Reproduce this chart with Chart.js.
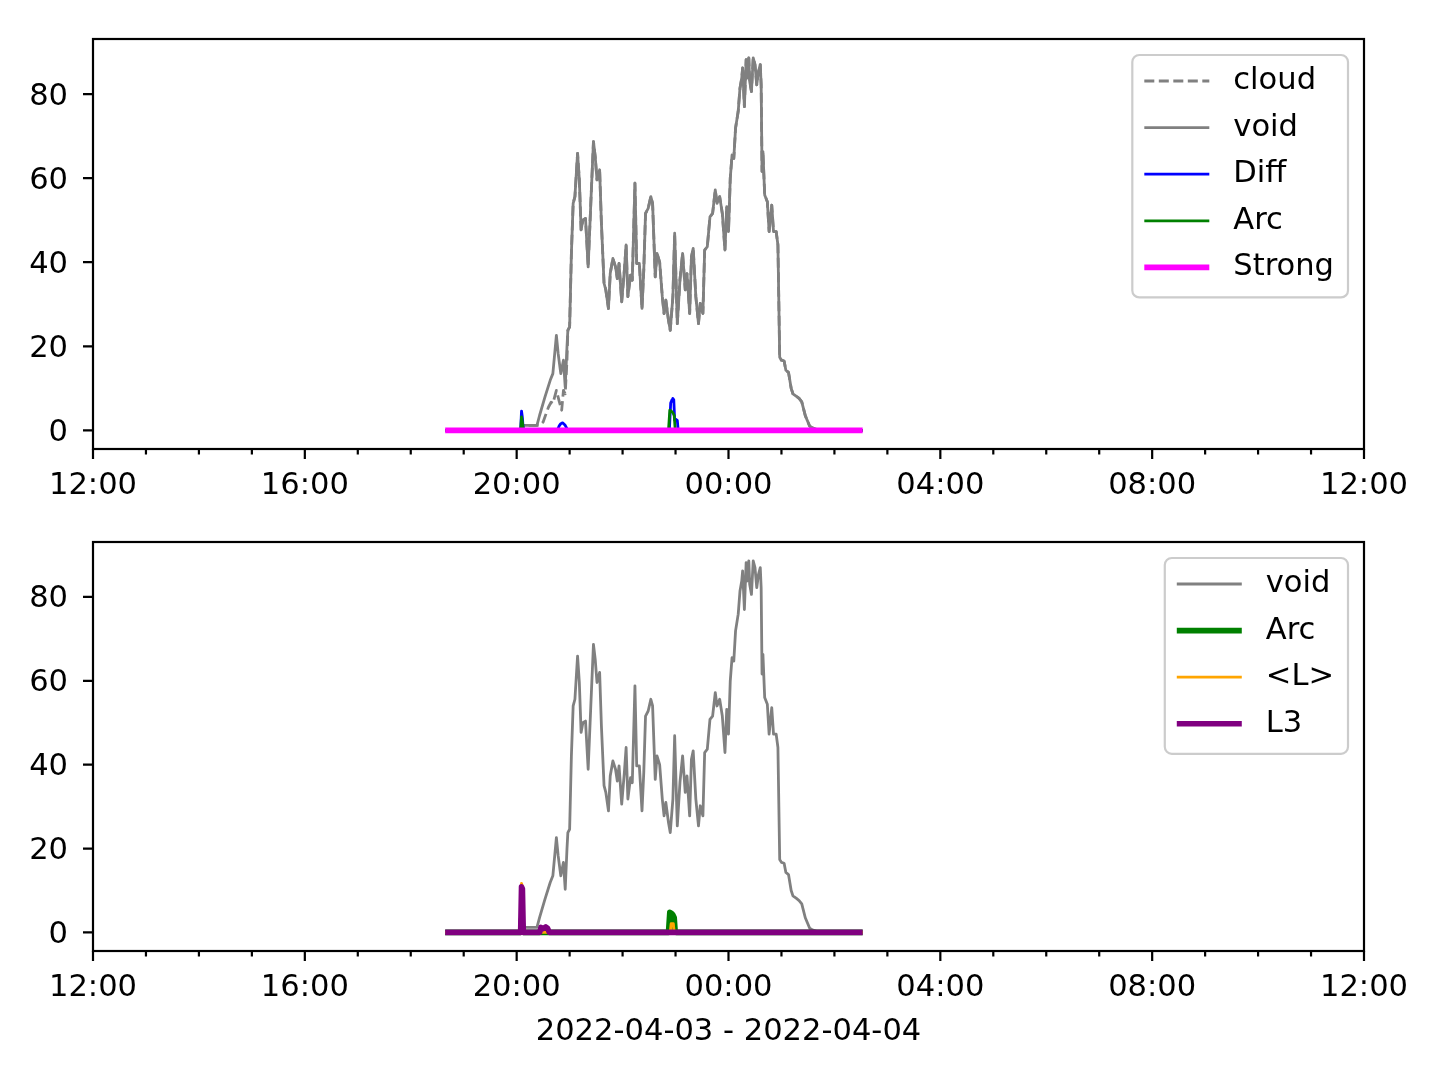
<!DOCTYPE html>
<html>
<head>
<meta charset="utf-8">
<script src="https://cdn.jsdelivr.net/npm/chart.js@4.4.0/dist/chart.umd.min.js"></script>
<style>
  html, body { margin: 0; padding: 0; background: #fff; }
  #wrap { position: relative; width: 1440px; height: 1080px; }
  canvas { position: absolute; left: 0; }
  #top { top: 0; }
  #bottom { top: 503px; }
</style>
</head>
<body>
<div id="wrap">
  <canvas id="top" width="1440" height="540"></canvas>
  <canvas id="bottom" width="1440" height="577"></canvas>
</div>
<script>
// x values are minutes after 2022-04-03 12:00
const xMajor = [0, 240, 480, 720, 960, 1200, 1440];
const xTickLabels = ['12:00', '16:00', '20:00', '00:00', '04:00', '08:00', '12:00'];
const yTicks = [0, 20, 40, 60, 80];
const xTitle = '2022-04-03 - 2022-04-04';

const voidT = [399, 486, 488, 503, 506, 512, 518, 521, 525, 527, 530, 533, 535, 537, 538, 540, 542, 544, 546, 549,
  551, 553, 555, 558, 561, 564, 567, 569, 571, 574, 576, 579, 581, 584, 586, 589, 592, 594, 596, 599,
  602, 604, 606, 609, 611, 614, 616, 619, 622, 624, 626, 629, 632, 634, 637, 639, 642, 645, 647, 649,
  652, 654, 657, 659, 662, 665, 668, 671, 673, 676, 678, 680, 683, 686, 688, 691, 693, 696, 699, 702,
  705, 707, 710, 713, 716, 718, 720, 722, 724, 726, 728, 731, 733, 735, 736, 738, 740, 741, 743, 744,
  746, 748, 750, 752, 754, 756, 757, 758, 759, 761, 764, 766, 769, 771, 774, 776, 778, 780, 783, 785,
  788, 791, 793, 797, 800, 803, 807, 812, 815, 822, 828, 872];
const voidV = [0, 0, 1.2, 1.2, 3.6, 7.9, 11.9, 13.5, 22.6, 18.3, 13.5, 16.7, 10.3, 19.9, 23.8, 24.6, 42.1, 54.0, 55.6, 65.9,
  59.6, 47.7, 50.0, 50.4, 38.9, 54.0, 68.7, 65.1, 59.6, 62.0, 49.3, 35.0, 33.4, 29.0, 37.3, 40.9, 38.9, 36.1, 39.7, 30.6,
  38.1, 44.1, 31.8, 36.9, 35.7, 58.8, 39.7, 39.7, 29.0, 38.1, 51.6, 52.8, 55.6, 54.0, 36.5, 42.1, 40.0, 31.8, 27.8, 31.0,
  26.2, 23.8, 31.8, 46.9, 25.4, 35.8, 42.1, 33.4, 37.3, 27.8, 41.3, 43.3, 31.8, 25.4, 30.2, 27.8, 42.9, 43.7, 50.8, 51.6,
  57.2, 54.0, 55.6, 51.6, 42.9, 53.2, 47.3, 60.0, 65.5, 64.7, 71.9, 75.9, 81.4, 83.8, 86.2, 77.0, 88.2, 83.8, 88.6, 83.0,
  80.6, 88.6, 87.0, 82.2, 85.4, 87.0, 82.2, 61.6, 66.3, 56.0, 54.4, 47.3, 53.6, 47.3, 47.3, 44.1, 17.4, 16.7, 16.5, 14.3,
  13.8, 10.0, 8.7, 8.1, 7.6, 6.8, 3.5, 1.0, 0.6, 0.1, 0, 0];

// cloud follows void except during the early rise, where it sits lower
const cloudRiseT = [506, 510, 512, 516, 519, 521, 525, 528, 531, 533, 535, 537];
const cloudRiseV = [1.2, 2.0, 3.2, 5.5, 6.7, 6.4, 9.5, 7.1, 4.8, 9.5, 8.7, 16.7];

const diffT = [399, 484.5, 485.5, 486.5, 487.5, 526, 528, 530, 532, 535, 538, 653, 654.5, 656, 657, 658, 659, 660, 662, 663, 872];
const diffV = [0, 0, 4.6, 3.0, 0, 0, 1.0, 1.6, 1.8, 1.2, 0, 0, 6.5, 7.3, 7.6, 7.3, 2.5, 2.7, 2.4, 0, 0];

const arcT = [399, 484.5, 485.5, 486.5, 487.5, 652, 653.5, 655, 657, 658.5, 659.5, 661, 872];
const arcV = [0, 0, 3.2, 2.0, 0, 0, 4.8, 4.6, 4.2, 3.5, 0.5, 0, 0];

const strongT = [399, 872];
const strongV = [0, 0];

const lMeanT = [399, 484.5, 485.5, 486.5, 487.5, 654, 655, 657.5, 658.5, 872];
const lMeanV = [0, 0, 11.7, 11.0, 0, 0, 2.1, 2.1, 0, 0];

const l3T = [399, 484.5, 485.5, 486.5, 487.5, 506, 507.5, 510, 513, 515, 517, 872];
const l3V = [0, 0, 10.9, 10.4, 0, 0, 1.2, 0.9, 1.3, 1.0, 0, 0];

const FONT_SIZE = 30.56;
Chart.defaults.font.family = 'DejaVu Sans';
Chart.defaults.font.size = FONT_SIZE;
Chart.defaults.color = '#000';

const pts = (t, v) => t.map((m, i) => ({ x: m, y: v[i] }));

const cloudPts = pts(voidT, voidV).filter(p => p.x < cloudRiseT[0] || p.x > cloudRiseT[cloudRiseT.length - 1])
  .concat(pts(cloudRiseT, cloudRiseV))
  .sort((a, b) => a.x - b.x);

function line(label, data, color, width, order, dash) {
  return {
    label, data, order,
    borderColor: color,
    borderWidth: width,
    borderDash: dash || [],
    borderJoinStyle: 'round',
    pointRadius: 0,
    tension: 0,
    fill: false
  };
}

function scales(axisHeight, title) {
  return {
    x: {
      type: 'linear', min: 0, max: 1440,
      grid: { display: false, drawTicks: false },
      border: { display: false },
      afterBuildTicks: s => { s.ticks = xMajor.map(v => ({ value: v })); },
      afterFit: s => { s.height = axisHeight; s.paddingLeft = 0; s.paddingRight = 0; },
      ticks: { autoSkip: false, maxRotation: 0, padding: 19, callback: (v, i) => xTickLabels[i] },
      title: title ? { display: true, text: title, padding: { top: 0, bottom: 29.6 } } : { display: false }
    },
    y: {
      min: -4.43, max: 93.1,
      grid: { display: false, drawTicks: false },
      border: { display: false },
      afterBuildTicks: s => { s.ticks = yTicks.map(v => ({ value: v })); },
      afterFit: s => { s.width = 93; s.paddingTop = 0; s.paddingBottom = 0; },
      ticks: { padding: 25, labelOffset: 2.5 }
    }
  };
}

// axes box plus major / minor tick marks, matplotlib style
const framePlugin = {
  id: 'frame',
  afterDraw(chart) {
    const { ctx, chartArea: a, scales: { x, y } } = chart;
    ctx.save();
    ctx.strokeStyle = '#000';
    ctx.lineWidth = 2.2;
    ctx.strokeRect(a.left, a.top, a.right - a.left, a.bottom - a.top);
    ctx.beginPath();
    for (let m = 0; m <= 1440; m += 60) {
      const px = x.getPixelForValue(m);
      const len = xMajor.includes(m) ? 10 : 5.6;
      ctx.moveTo(px, a.bottom);
      ctx.lineTo(px, a.bottom + len);
    }
    yTicks.forEach(v => {
      const py = y.getPixelForValue(v);
      ctx.moveTo(a.left, py);
      ctx.lineTo(a.left - 10, py);
    });
    ctx.stroke();
    ctx.restore();
  }
};

const legendPlugin = {
  id: 'boxLegend',
  afterDraw(chart) {
    const { ctx, chartArea: a } = chart;
    const items = chart.data.datasets;
    ctx.save();
    ctx.font = FONT_SIZE + 'px "DejaVu Sans"';
    const textW = Math.max(...items.map(d => ctx.measureText(d.label).width));
    const rowH = 46.6;
    const w = 12 + 65 + 24 + textW + 14;
    const h = 26 + (items.length - 1) * rowH + 30;
    const x0 = a.right - 16 - w;
    const y0 = a.top + 16;
    const r = 7;
    ctx.beginPath();
    ctx.moveTo(x0 + r, y0);
    ctx.arcTo(x0 + w, y0, x0 + w, y0 + h, r);
    ctx.arcTo(x0 + w, y0 + h, x0, y0 + h, r);
    ctx.arcTo(x0, y0 + h, x0, y0, r);
    ctx.arcTo(x0, y0, x0 + w, y0, r);
    ctx.closePath();
    ctx.fillStyle = 'rgba(255,255,255,0.8)';
    ctx.fill();
    ctx.strokeStyle = '#cccccc';
    ctx.lineWidth = 2.2;
    ctx.stroke();
    items.forEach((d, i) => {
      const cy = y0 + 26 + i * rowH;
      ctx.beginPath();
      ctx.strokeStyle = d.borderColor;
      ctx.lineWidth = d.borderWidth;
      ctx.setLineDash(d.borderDash);
      ctx.moveTo(x0 + 12, cy);
      ctx.lineTo(x0 + 77, cy);
      ctx.stroke();
      ctx.setLineDash([]);
      ctx.fillStyle = '#000';
      ctx.textBaseline = 'middle';
      ctx.textAlign = 'left';
      ctx.fillText(d.label, x0 + 101, cy);
    });
    ctx.restore();
  }
};

const common = {
  responsive: false,
  animation: false,
  devicePixelRatio: 1,
  layout: { padding: { top: 39, right: 76, left: 0, bottom: 0 } },
  plugins: { legend: { display: false }, tooltip: { enabled: false } }
};

new Chart(document.getElementById('top'), {
  type: 'line',
  data: {
    datasets: [
      line('cloud', cloudPts, '#808080', 2.8, 5, [10, 4.5]),
      line('void', pts(voidT, voidV), '#808080', 2.8, 4),
      line('Diff', pts(diffT, diffV), '#0000ff', 2.8, 3),
      line('Arc', pts(arcT, arcV), '#008000', 2.8, 2),
      line('Strong', pts(strongT, strongV), '#ff00ff', 5.6, 1)
    ]
  },
  options: Object.assign({}, common, { scales: scales(91, null) }),
  plugins: [framePlugin, legendPlugin]
});

new Chart(document.getElementById('bottom'), {
  type: 'line',
  data: {
    datasets: [
      line('void', pts(voidT, voidV), '#808080', 2.8, 4),
      line('Arc', pts(arcT, arcV), '#008000', 5.6, 3),
      line('<L>', pts(lMeanT, lMeanV), '#ffa500', 2.8, 2),
      line('L3', pts(l3T, l3V), '#800080', 5.6, 1)
    ]
  },
  options: Object.assign({}, common, { scales: scales(129, xTitle) }),
  plugins: [framePlugin, legendPlugin]
});
</script>
</body>
</html>
